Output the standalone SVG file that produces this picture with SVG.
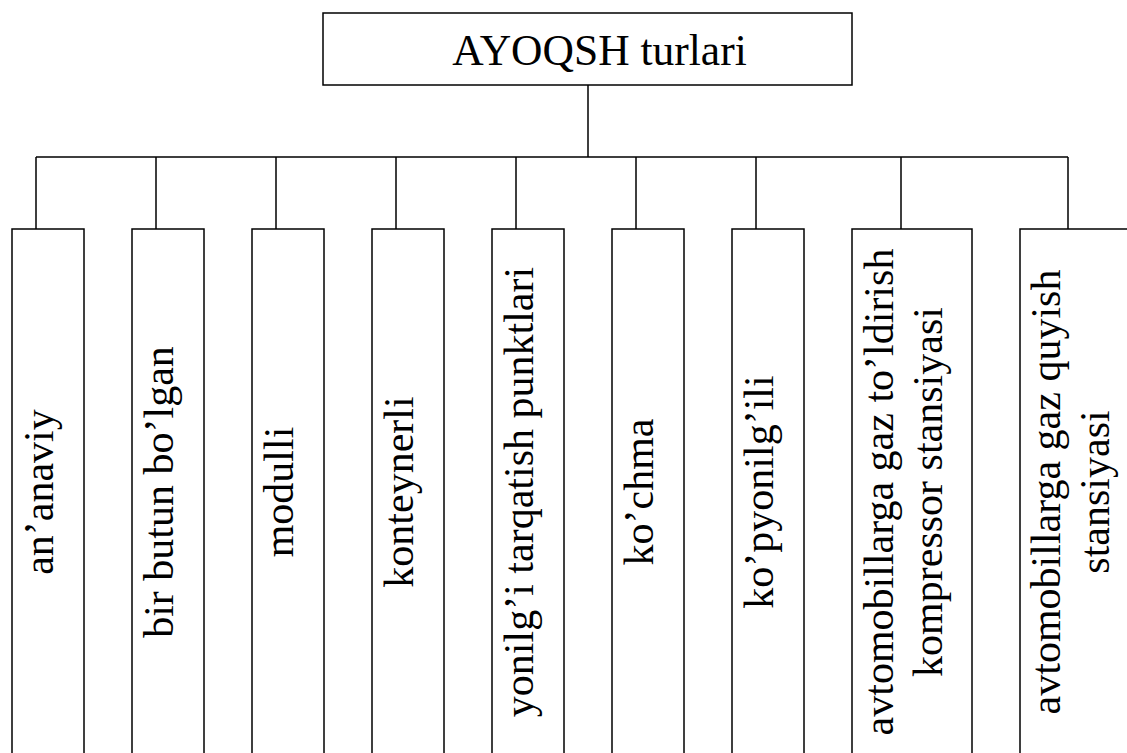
<svg xmlns="http://www.w3.org/2000/svg" width="1127" height="753" viewBox="0 0 1127 753">
<style>
.box{fill:#fff;stroke:#000;stroke-width:1.5}
.conn{fill:none;stroke:#000;stroke-width:1.5}
.lbl{font-family:"Liberation Serif","Times New Roman",serif;font-size:42px;fill:#000;text-anchor:middle}
.title{font-size:43.5px}
</style>
<rect width="1127" height="753" fill="#fff"/>
<g id="connectors">
<path class="conn" d="M588,85V157M36,157H1068M36,157V229M156,157V229M276,157V229M396,157V229M516,157V229M636,157V229M756,157V229M901,157V229M1068,157V229"/>
</g>
<g id="root">
<rect class="box" x="323" y="13" width="529" height="72"/>
<text class="lbl title" x="599.5" y="65">AYOQSH turlari</text>
</g>
<g id="n1">
<rect class="box" x="12" y="229" width="72" height="540"/>
<text class="lbl" transform="translate(53,492) rotate(-90)">an’anaviy</text>
</g>
<g id="n2">
<rect class="box" x="132" y="229" width="72" height="540"/>
<text class="lbl" transform="translate(173,492) rotate(-90)">bir butun bo’lgan</text>
</g>
<g id="n3">
<rect class="box" x="252" y="229" width="72" height="540"/>
<text class="lbl" transform="translate(293,492) rotate(-90)">modulli</text>
</g>
<g id="n4">
<rect class="box" x="372" y="229" width="72" height="540"/>
<text class="lbl" transform="translate(413,492) rotate(-90)">konteynerli</text>
</g>
<g id="n5">
<rect class="box" x="492" y="229" width="72" height="540"/>
<text class="lbl" transform="translate(533,492) rotate(-90)">yonilg’i tarqatish punktlari</text>
</g>
<g id="n6">
<rect class="box" x="612" y="229" width="72" height="540"/>
<text class="lbl" transform="translate(653,492) rotate(-90)">ko’chma</text>
</g>
<g id="n7">
<rect class="box" x="732" y="229" width="72" height="540"/>
<text class="lbl" transform="translate(773,492) rotate(-90)">ko’pyonilg’ili</text>
</g>
<g id="n8">
<rect class="box" x="852" y="229" width="120" height="540"/>
<text class="lbl" transform="translate(893,492) rotate(-90)">avtomobillarga gaz to’ldirish</text>
<text class="lbl" transform="translate(942,492) rotate(-90)">kompressor stansiyasi</text>
</g>
<g id="n9">
<rect class="box" x="1020" y="229" width="120" height="540"/>
<text class="lbl" transform="translate(1060,492) rotate(-90)">avtomobillarga gaz quyish</text>
<text class="lbl" transform="translate(1109,492) rotate(-90)">stansiyasi</text>
</g>
</svg>
